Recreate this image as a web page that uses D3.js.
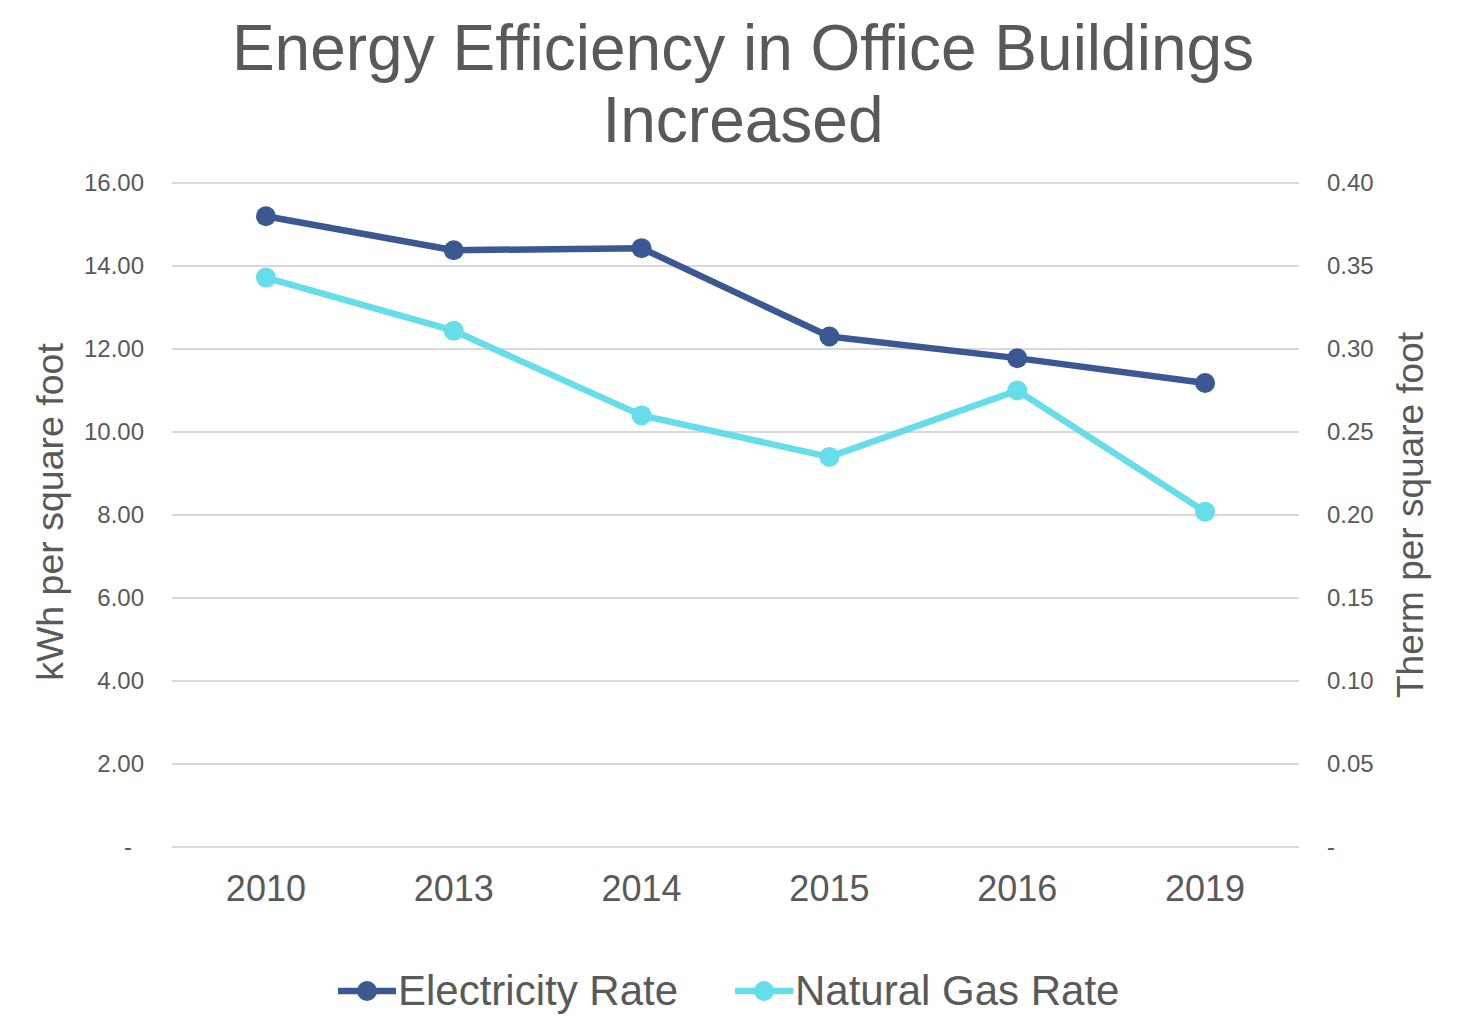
<!DOCTYPE html>
<html>
<head>
<meta charset="utf-8">
<script src="https://cdn.jsdelivr.net/npm/d3@7"></script>
<style>
  body { margin: 0; background: #fff; }
  text { font-family: "Liberation Sans", Arial, sans-serif; fill: #595959; }
</style>
</head>
<body>
<div id="chart"></div>
<script>
// chart data
const years = ["2010", "2013", "2014", "2015", "2016", "2019"];
const electricity = [15.20, 14.38, 14.43, 12.30, 11.78, 11.18];
const naturalGas = [0.343, 0.311, 0.260, 0.235, 0.275, 0.202];
const leftTicks = [0, 2, 4, 6, 8, 10, 12, 14, 16];
const rightTicks = [0, 0.05, 0.1, 0.15, 0.2, 0.25, 0.3, 0.35, 0.4];
const seriesNames = ["Electricity Rate", "Natural Gas Rate"];

const W = 1473, H = 1016;
const margin = {top: 183, right: 174, bottom: 169, left: 172};
const width = W - margin.left - margin.right;
const height = H - margin.top - margin.bottom;

const colors = ["#3c5893", "#66dde8"];

const svg = d3.select("#chart").append("svg")
    .attr("width", W)
    .attr("height", H);

// title
svg.append("text")
    .attr("text-anchor", "middle")
    .attr("x", 743).attr("y", 70)
    .style("font-size", "64px")
    .text("Energy Efficiency in Office Buildings");
svg.append("text")
    .attr("text-anchor", "middle")
    .attr("x", 743).attr("y", 142)
    .style("font-size", "64px")
    .text("Increased");

const g = svg.append("g")
    .attr("transform", `translate(${margin.left},${margin.top})`);

const x = d3.scaleBand().domain(years).range([0, width]).padding(0);
const yL = d3.scaleLinear().domain([0, 16]).range([height, 0]);
const yR = d3.scaleLinear().domain([0, 0.4]).range([height, 0]);

// gridlines
g.append("g")
    .selectAll("line")
    .data(leftTicks)
    .join("line")
    .attr("x1", 0).attr("x2", width)
    .attr("y1", d => yL(d)).attr("y2", d => yL(d))
    .attr("stroke", "#d9d9d9")
    .attr("stroke-width", 2);

// left axis
const leftAxis = g.append("g")
    .call(d3.axisLeft(yL).tickValues(leftTicks).tickSize(0).tickPadding(28)
        .tickFormat(d => d === 0 ? "-" : d3.format(".2f")(d)));
leftAxis.select(".domain").remove();
leftAxis.selectAll("text").style("font-size", "24px")
    .attr("dx", d => d === 0 ? -12 : 0);

// right axis
const rightAxis = g.append("g")
    .attr("transform", `translate(${width},0)`)
    .call(d3.axisRight(yR).tickValues(rightTicks).tickSize(0).tickPadding(28)
        .tickFormat(d => d === 0 ? "-" : d3.format(".2f")(d)));
rightAxis.select(".domain").remove();
rightAxis.selectAll("text").style("font-size", "24px");

// x axis
const xAxis = g.append("g")
    .attr("transform", `translate(0,${height})`)
    .call(d3.axisBottom(x).tickSize(0).tickPadding(28));
xAxis.select(".domain").remove();
xAxis.selectAll("text").style("font-size", "36px");

// axis titles
svg.append("text")
    .attr("text-anchor", "middle")
    .attr("transform", `translate(63,${margin.top + height / 2 - 3}) rotate(-90)`)
    .style("font-size", "37.5px")
    .text("kWh per square foot");
svg.append("text")
    .attr("text-anchor", "middle")
    .attr("transform", `translate(1423,${margin.top + height / 2}) rotate(-90)`)
    .style("font-size", "37px")
    .text("Therm per square foot");

// lines
const series = [
    {name: seriesNames[0], values: electricity, y: yL, color: colors[0]},
    {name: seriesNames[1], values: naturalGas, y: yR, color: colors[1]}
];

series.forEach(s => {
    const line = d3.line()
        .x((d, i) => x(years[i]) + x.bandwidth() / 2)
        .y(d => s.y(d));
    g.append("path")
        .datum(s.values)
        .attr("fill", "none")
        .attr("stroke", s.color)
        .attr("stroke-width", 6.5)
        .attr("stroke-linejoin", "round")
        .attr("d", line);
    g.append("g").selectAll("circle")
        .data(s.values)
        .join("circle")
        .attr("cx", (d, i) => x(years[i]) + x.bandwidth() / 2)
        .attr("cy", d => s.y(d))
        .attr("r", 10)
        .attr("fill", s.color);
});

// legend (nudged up a little so the text stays inside the picture)
const legendX = [338, 735];
const legend = svg.append("g");
series.forEach((s, i) => {
    const lg = legend.append("g").attr("transform", `translate(${legendX[i]},991)`);
    lg.append("line")
        .attr("x1", 0).attr("x2", 58)
        .attr("stroke", s.color).attr("stroke-width", 6.5);
    lg.append("circle").attr("cx", 29).attr("r", 10).attr("fill", s.color);
    lg.append("text")
        .attr("x", 60).attr("y", 14)
        .style("font-size", "42px")
        .text(s.name);
});
</script>
</body>
</html>
